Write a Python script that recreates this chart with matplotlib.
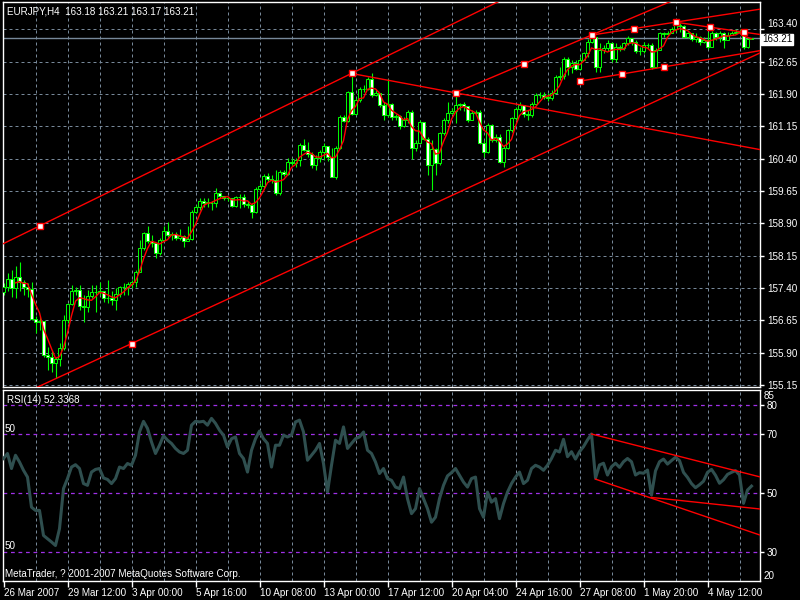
import numpy as np
import pandas as pd
import matplotlib
matplotlib.use('Agg')
import matplotlib.pyplot as plt

plt.rcParams['font.family'] = ['Liberation Sans', 'DejaVu Sans']

# EURJPY H4 candles, open = previous close
first_open = 157.30
closes = [
    157.43, 157.60, 157.39, 157.66, 157.55, 157.43, 157.37, 156.67, 156.62, 156.64,
    155.85, 155.81, 155.67, 155.75, 156.00, 156.66, 157.03, 157.34, 157.35, 156.98,
    156.95, 157.22, 157.31, 157.31, 157.34, 157.16, 157.16, 157.12, 157.26, 157.42,
    157.43, 157.49, 157.54, 157.78, 158.32, 158.67, 158.50, 158.44, 158.22, 158.52,
    158.72, 158.63, 158.65, 158.57, 158.61, 158.50, 158.54, 159.17, 159.29, 159.41,
    159.38, 159.38, 159.37, 159.60, 159.54, 159.48, 159.48, 159.30, 159.51, 159.52,
    159.34, 159.33, 159.17, 159.69, 159.77, 160.00, 159.92, 159.91, 159.60, 160.10,
    160.05, 160.33, 160.31, 160.37, 160.72, 160.60, 160.52, 160.25, 160.41, 160.56,
    160.69, 160.45, 159.98, 160.64, 161.38, 161.28, 161.96, 161.45, 161.76, 162.01,
    162.03, 162.24, 161.88, 161.93, 161.65, 161.41, 161.68, 161.36, 161.39, 161.16,
    161.30, 161.49, 160.64, 160.77, 161.26, 160.87, 160.25, 160.62, 160.29, 160.99,
    161.30, 161.47, 161.51, 161.65, 161.67, 161.62, 161.30, 161.46, 161.49, 160.77,
    160.56, 161.18, 160.83, 160.91, 160.33, 160.66, 161.07, 161.34, 161.55, 161.65,
    161.44, 161.41, 161.68, 161.88, 161.89, 161.84, 161.82, 161.93, 162.30, 162.32,
    162.71, 162.54, 162.62, 162.48, 162.69, 162.86, 163.12, 163.22, 162.54, 162.93,
    162.96, 163.08, 162.71, 163.00, 162.96, 163.08, 163.20, 163.12, 162.91, 162.89,
    163.04, 163.04, 162.54, 162.93, 163.31, 163.30, 163.33, 163.40, 163.50, 163.47,
    163.23, 163.31, 163.17, 163.23, 163.12, 163.16, 163.00, 163.31, 163.23, 163.31,
    163.16, 163.27, 163.31, 163.35, 163.35, 163.00, 163.18, 163.21,
]
highs = [
    157.51, 157.74, 157.82, 157.90, 158.01, 157.59, 157.51, 157.55, 156.74, 156.74,
    156.64, 156.04, 155.96, 155.81, 156.12, 156.78, 157.05, 157.47, 157.43, 157.47,
    157.24, 157.36, 157.47, 157.47, 157.55, 157.24, 157.59, 157.32, 157.39, 157.45,
    157.51, 157.55, 157.59, 157.82, 158.52, 158.71, 158.83, 158.63, 158.40, 158.55,
    158.83, 158.94, 158.71, 158.69, 158.76, 158.63, 158.83, 159.21, 159.33, 159.48,
    159.50, 159.48, 159.41, 159.71, 159.64, 159.54, 159.54, 159.48, 159.54, 159.58,
    159.58, 159.43, 159.38, 159.75, 159.83, 160.05, 160.06, 160.02, 160.14, 160.14,
    160.14, 160.41, 160.41, 160.41, 160.76, 160.85, 160.80, 160.56, 160.49, 160.60,
    160.76, 160.69, 160.66, 160.69, 161.41, 161.41, 161.98, 162.34, 161.80, 162.07,
    162.11, 162.30, 162.38, 161.99, 161.92, 161.72, 162.26, 161.70, 161.45, 161.41,
    161.36, 161.53, 161.53, 160.83, 161.31, 161.26, 160.90, 160.83, 160.66, 161.03,
    161.34, 161.72, 161.57, 161.92, 161.70, 161.72, 161.53, 161.53, 161.53, 161.53,
    160.83, 161.22, 161.21, 160.97, 160.98, 160.72, 161.10, 161.38, 161.61, 161.72,
    161.65, 161.53, 161.72, 161.93, 161.96, 161.95, 161.92, 161.99, 162.34, 162.54,
    162.77, 162.77, 162.69, 162.69, 162.77, 162.88, 163.19, 163.29, 163.23, 163.08,
    163.04, 163.16, 163.12, 163.08, 163.04, 163.12, 163.25, 163.20, 163.16, 163.00,
    163.12, 163.09, 163.08, 162.96, 163.35, 163.35, 163.37, 163.45, 163.61, 163.56,
    163.50, 163.35, 163.33, 163.31, 163.25, 163.22, 163.35, 163.37, 163.35, 163.37,
    163.35, 163.35, 163.37, 163.40, 163.40, 163.33, 163.23, 163.21,
]
lows = [
    157.24, 157.32, 157.20, 157.16, 157.32, 157.24, 157.20, 156.66, 156.35, 156.43,
    155.81, 155.50, 155.46, 155.31, 155.58, 155.96, 156.58, 157.01, 157.24, 156.89,
    156.60, 156.85, 157.16, 156.85, 157.24, 157.08, 157.05, 157.01, 156.89, 157.20,
    157.24, 157.24, 157.39, 157.43, 157.78, 158.28, 158.44, 158.36, 158.09, 158.17,
    158.48, 158.59, 158.52, 158.52, 158.52, 158.36, 158.48, 158.52, 159.13, 159.21,
    159.29, 159.29, 159.21, 159.29, 159.48, 159.44, 159.43, 159.27, 159.27, 159.25,
    159.29, 159.25, 159.02, 159.15, 159.64, 159.71, 159.87, 159.83, 159.56, 159.56,
    159.99, 160.02, 160.26, 160.22, 160.24, 160.57, 160.45, 160.18, 160.14, 160.33,
    160.37, 160.35, 159.97, 159.94, 160.62, 161.26, 161.26, 161.41, 161.41, 161.72,
    161.96, 161.99, 161.84, 161.85, 161.61, 161.30, 161.38, 161.31, 161.30, 161.10,
    161.14, 161.22, 160.39, 160.59, 160.76, 160.83, 160.02, 159.67, 160.02, 160.25,
    160.95, 161.24, 161.45, 161.22, 161.53, 161.51, 161.26, 161.38, 161.44, 160.74,
    160.45, 160.54, 160.80, 160.80, 160.29, 160.22, 160.62, 161.03, 161.30, 161.51,
    161.38, 161.30, 161.38, 161.65, 161.82, 161.78, 161.75, 161.76, 161.92, 162.23,
    162.26, 162.34, 162.38, 162.46, 162.46, 162.69, 162.77, 163.09, 162.42, 162.42,
    162.85, 162.89, 162.65, 162.65, 162.89, 162.93, 163.04, 163.04, 162.85, 162.81,
    162.85, 162.96, 162.48, 162.50, 162.93, 163.23, 163.27, 163.31, 163.35, 163.35,
    163.20, 163.20, 163.14, 163.12, 163.04, 163.09, 162.94, 163.12, 163.16, 163.12,
    162.96, 163.20, 163.27, 163.30, 163.30, 162.94, 162.96, 163.17,
]
rsi = [
    61.7, 63.4, 58.3, 62.8, 60.5, 57.7, 55.4, 45.2, 44.1, 44.1,
    35.6, 34.5, 33.4, 32.2, 37.9, 51.5, 54.9, 58.8, 59.6, 58.3,
    53.2, 52.6, 57.1, 58.0, 58.3, 55.1, 54.6, 53.2, 54.9, 58.8,
    58.3, 60.0, 59.4, 62.8, 70.7, 74.3, 71.9, 67.3, 63.4, 66.2,
    69.4, 67.9, 66.8, 65.1, 63.9, 63.4, 64.5, 73.0, 74.3, 74.1,
    74.3, 73.0, 75.3, 73.6, 71.3, 69.6, 65.6, 68.4, 69.0, 63.4,
    61.7, 57.1, 64.5, 68.4, 71.0, 68.4, 66.8, 58.8, 66.2, 66.2,
    69.6, 69.0, 69.6, 74.1, 74.7, 70.7, 61.1, 62.8, 64.5, 66.8,
    60.0, 50.3, 59.4, 67.9, 66.8, 72.4, 65.1, 66.8, 68.4, 69.0,
    70.7, 64.5, 63.4, 60.5, 56.6, 58.3, 54.9, 54.3, 52.0, 51.5,
    55.4, 48.1, 43.0, 44.7, 51.5, 48.1, 44.7, 40.1, 41.8, 48.1,
    52.6, 55.8, 56.9, 58.3, 56.0, 53.7, 52.0, 54.9, 55.4, 44.7,
    41.8, 50.3, 46.9, 48.1, 41.3, 46.4, 50.3, 53.2, 55.4, 57.1,
    53.2, 54.3, 58.3, 59.4, 58.8, 57.7, 59.4, 61.7, 64.5, 63.9,
    68.2, 62.3, 64.0, 61.5, 64.0, 65.7, 68.0, 70.0, 55.0, 59.5,
    60.1, 56.1, 58.9, 60.1, 58.7, 60.6, 61.7, 60.6, 56.1, 56.9,
    56.7, 57.8, 49.3, 57.5, 60.6, 61.5, 59.8, 61.0, 62.1, 61.0,
    57.0, 55.3, 53.2, 51.8, 52.8, 54.0, 57.0, 58.0, 56.0, 53.3,
    54.5, 56.3, 57.0, 57.6, 56.1, 46.5, 51.0, 52.34,
]

date_labels = ['26 Mar 2007', '29 Mar 12:00', '3 Apr 00:00', '5 Apr 16:00',
               '10 Apr 08:00', '13 Apr 00:00', '17 Apr 12:00', '20 Apr 04:00',
               '24 Apr 16:00', '27 Apr 08:00', '1 May 20:00', '4 May 12:00']
price_ticks = [155.15, 155.90, 156.65, 157.40, 158.15, 158.90, 159.65,
               160.40, 161.15, 161.90, 162.65, 163.40]
rsi_levels = [30, 50, 70, 80]
bid = 163.21

# trend lines: (bar1, value1, bar2, value2, extend to the left)
price_lines = [
    (9, 158.84, 87, 162.38, True),
    (32, 156.11, 189, 162.85, True),
    (87, 162.38, 113, 161.93, False),
    (113, 161.93, 147, 163.27, False),
    (147, 163.27, 168, 163.57, False),
    (168, 163.57, 185, 163.34, False),
    (144, 162.20, 165, 162.53, False),
]
handles = [(9, 158.84), (87, 162.38), (32, 156.11), (113, 161.93), (130, 162.60),
           (147, 163.27), (157.5, 163.42), (168, 163.57), (176.5, 163.45),
           (185, 163.34), (144, 162.20), (154.5, 162.37), (165, 162.53)]
rsi_lines = [
    (147, 70.0, 189, 55.5),
    (148, 54.7, 189, 35.8),
    (162, 48.5, 189, 44.6),
]

c = np.array(closes)
h = np.array(highs)
l = np.array(lows)
o = np.r_[first_open, c[:-1]]
h = np.maximum(h, np.maximum(o, c))
l = np.minimum(l, np.minimum(o, c))
x = np.arange(len(c))
ma = pd.Series(c).rolling(4).mean()

GREEN = '#00FF00'
GRID = '#778899'
FS = 7.1
XMIN, XMAX = -0.125, 189.125

fig = plt.figure(figsize=(8, 6), dpi=100, facecolor='black')
ax1 = fig.add_axes([3 / 800, 1 - 387 / 600, 757 / 800, 385 / 600], facecolor='black')
ax2 = fig.add_axes([3 / 800, 1 - 581 / 600, 757 / 800, 191 / 600], facecolor='black')

for ax in (ax1, ax2):
    for s in ax.spines.values():
        s.set_color('white')
        s.set_linewidth(1)
    for b in range(8, 189, 8):
        ax.axvline(b, color=GRID, lw=0.72, ls=(0, (3, 3)), zorder=0)
    ax.set_xlim(XMIN, XMAX)

# price panel
ax1.set_ylim(155.103, 164.038)
for p in price_ticks:
    ax1.axhline(p, color=GRID, lw=0.72, ls=(0, (3, 3)), zorder=0)
ax1.axhline(bid, color=GRID, lw=1, zorder=1)

ax1.vlines(x, l, h, color=GREEN, lw=0.8, zorder=2)
body_lo = np.minimum(o, c)
body_h = np.maximum(np.abs(c - o), 0.006)
fill = np.where(c < o, 'white', 'black')
ax1.bar(x, body_h, bottom=body_lo, width=0.72, color=fill, edgecolor=GREEN,
        linewidth=0.7, zorder=3)
ax1.plot(x, ma, color='red', lw=1, zorder=4)

for b1, v1, b2, v2, left in price_lines:
    k = (v2 - v1) / (b2 - b1)
    xs = XMIN if left else b1
    ax1.plot([xs, XMAX], [v1 + k * (xs - b1), v1 + k * (XMAX - b1)],
             color='red', lw=1, zorder=5)
hb, hv = zip(*handles)
ax1.plot(hb, hv, ls='none', marker='s', ms=4.2, mfc='white', mec='red', mew=1, zorder=6)

ax1.set_xticks([])
ax1.yaxis.tick_right()
ax1.set_yticks(price_ticks)
ax1.set_yticklabels(['%.2f' % p for p in price_ticks])
ax1.tick_params(axis='y', direction='out', length=3, width=1, color='white',
                labelcolor='white', labelsize=FS, pad=2)
for lab in ax1.get_yticklabels():
    if lab.get_text() == '163.40':
        lab.set_va('bottom')
fig.text(762 / 800, 1 - 39.5 / 600, '%.2f' % bid, color='black', fontsize=FS,
         va='center', ha='left',
         bbox=dict(boxstyle='square,pad=0.1', fc='white', ec='white'))
fig.text(7 / 800, 1 - 11 / 600, 'EURJPY,H4  163.18 163.21 163.17 163.21',
         color='white', fontsize=FS, va='center')

# RSI panel
ax2.set_ylim(20.17, 84.92)
for lv in rsi_levels:
    ax2.axhline(lv, color='#A030E8', lw=0.9, ls=(0, (3, 3)), zorder=0)
ax2.plot(x, rsi, color='#2F4F4F', lw=2.2, zorder=3)
for b1, v1, b2, v2 in rsi_lines:
    k = (v2 - v1) / (b2 - b1)
    ax2.plot([b1, XMAX], [v1, v1 + k * (XMAX - b1)], color='red', lw=1, zorder=4)

ax2.yaxis.tick_right()
ax2.set_yticks(rsi_levels)
ax2.set_yticklabels([str(v) for v in rsi_levels])
ax2.tick_params(axis='y', direction='out', length=3, width=1, color='white',
                labelcolor='white', labelsize=FS, pad=2)
fig.text(764 / 800, 1 - 396 / 600, '85', color='white', fontsize=FS, va='center')
fig.text(764 / 800, 1 - 576 / 600, '20', color='white', fontsize=FS, va='center')

ax2.set_xticks(range(0, 177, 16))
ax2.set_xticklabels(date_labels, ha='left')
ax2.tick_params(axis='x', direction='out', length=4, width=1, color='white',
                labelcolor='white', labelsize=FS, pad=1)

fig.text(7 / 800, 1 - 400 / 600, 'RSI(14) 52.3368', color='white', fontsize=FS, va='center')
fig.text(5 / 800, 1 - 429 / 600, '50', color='white', fontsize=FS, va='center')
fig.text(5 / 800, 1 - 546 / 600, '50', color='white', fontsize=FS, va='center')
fig.text(5 / 800, 1 - 574 / 600, 'MetaTrader, ? 2001-2007 MetaQuotes Software Corp.',
         color='white', fontsize=FS, va='center')

fig.savefig('out.png', dpi=100, facecolor='black')
